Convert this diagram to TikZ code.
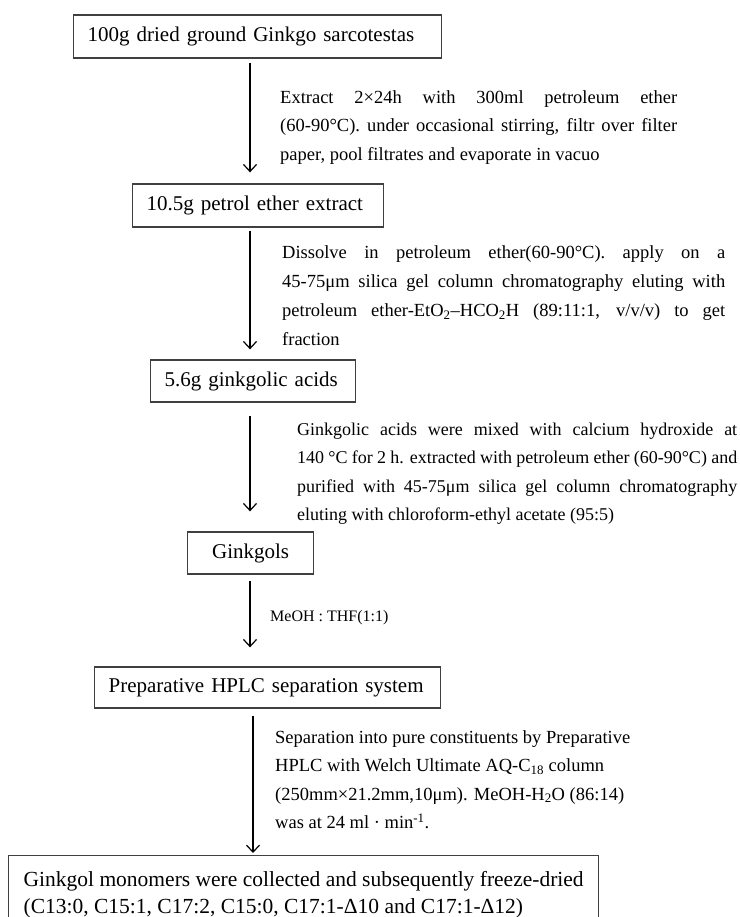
\documentclass[tikz,border=0pt]{standalone}
\usepackage{fontspec}
\setmainfont{Liberation Serif}
\usetikzlibrary{arrows.meta}
\newcommand{\jline}[2]{\makebox[#1][s]{#2}}
\begin{document}
\begin{tikzpicture}[x=1pt,y=-1pt]
    \tikzset{box/.style = {draw=black!75, line width=1.3pt, inner xsep=14pt, inner ysep=0pt, align=left, anchor=west, font=\fontsize{21}{27}\selectfont}}
    \tikzset{note/.style = {inner sep=0pt, anchor=north west, align=left, font=\fontsize{18.5}{28.5}\selectfont}}
    \tikzset{flow/.style = {line width=1.2pt, -{Straight Barb[length=7pt,width=13pt]}}}
    \useasboundingbox (0,0) rectangle (739,917);
    % boxes down the page
    \node[box, text width=340pt, minimum height=43pt] (dried) at (73,36.5) {\mbox{100g dried ground Ginkgo sarcotestas}};
    \node[box, text width=223pt, minimum height=43pt] (petrol) at (132,205.5) {\mbox{10.5g petrol ether extract}};
    \node[box, text width=177pt, minimum height=42pt] (acids) at (150,381) {\mbox{5.6g ginkgolic acids}};
    \node[box, text width=98pt, minimum height=42pt, align=center] (ginkgols) at (187,553) {Ginkgols};
    \node[box, text width=318pt, minimum height=41pt] (hplc) at (94,687.5) {\mbox{Preparative HPLC separation system}};
    \node[box, anchor=north west, minimum width=590pt, inner ysep=16pt, font=\fontsize{21.5}{27}\selectfont] (monomers) at (8,855)
        {Ginkgol monomers were collected and subsequently freeze-dried\\(C13:0, C15:1, C17:2, C15:0, C17:1-Δ10 and C17:1-Δ12)};
    % conditions beside the arrows
    \node[note] (step1) at (280,90) {\jline{397pt}{Extract 2×24h with 300ml petroleum ether}\\
        \jline{397pt}{(60-90°C). under occasional stirring, filtr over filter}\\
        paper, pool filtrates and evaporate in vacuo};
    \node[note, font=\fontsize{18.5}{29}\selectfont] (step2) at (282,245.5) {\jline{443pt}{Dissolve in petroleum ether(60-90°C). apply on a}\\
        \jline{443pt}{45-75μm silica gel column chromatography eluting with}\\
        \jline{443pt}{petroleum ether-EtO\textsubscript{2}–HCO\textsubscript{2}H (89:11:1, v/v/v) to get}\\
        fraction};
    \node[note, font=\fontsize{18}{28.3}\selectfont] (step3) at (297,423) {\jline{440pt}{Ginkgolic acids were mixed with calcium hydroxide at}\\
        \jline{440pt}{140 °C for 2 h. extracted with petroleum ether (60-90°C) and}\\
        \jline{440pt}{purified with 45-75μm silica gel column chromatography}\\
        eluting with chloroform-ethyl acetate (95:5)};
    \node[note, font=\fontsize{16}{20}\selectfont] (step4) at (270,610) {MeOH : THF(1:1)};
    \node[note] (step5) at (275,730) {Separation into pure constituents by Preparative\\
        HPLC with Welch Ultimate AQ-C\textsubscript{18} column\\
        (250mm×21.2mm,10μm). MeOH-H\textsubscript{2}O (86:14)\\
        was at 24 ml · min\textsuperscript{-1}.};
    % arrows
    \coordinate (axis) at (250,0);
    \coordinate (axistwo) at (253,0);
    \draw[flow, shorten <=4pt, shorten >=11pt] (dried.south -| axis) -- (petrol.north -| axis);
    \draw[flow, shorten <=3pt, shorten >=10pt] (petrol.south -| axis) -- (acids.north -| axis);
    \draw[flow, shorten <=13pt, shorten >=20pt] (acids.south -| axis) -- (ginkgols.north -| axis);
    \draw[flow, shorten <=6pt, shorten >=19pt] (ginkgols.south -| axis) -- (hplc.north -| axis);
    \draw[flow, shorten <=7pt, shorten >=2pt] (hplc.south -| axistwo) -- (monomers.north -| axistwo);
\end{tikzpicture}
\end{document}
